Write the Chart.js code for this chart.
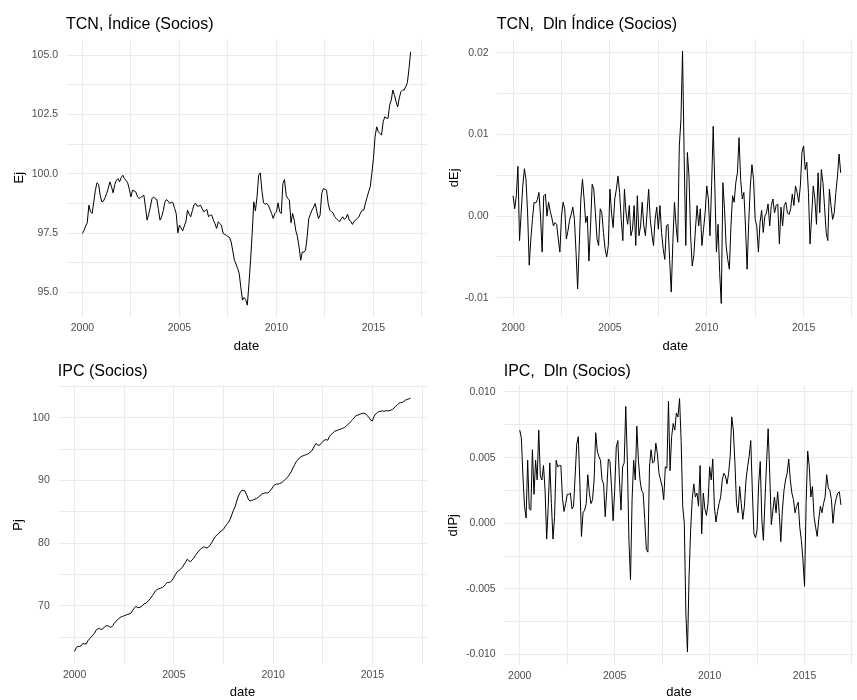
<!DOCTYPE html>
<html>
<head>
<meta charset="utf-8">
<title>TCN e IPC (Socios)</title>
<script src="https://cdn.jsdelivr.net/npm/chart.js@4.4.1/dist/chart.umd.min.js"></script>
<style>
    html, body { margin: 0; padding: 0; background: #fff; overflow: hidden; }
    .panel { position: absolute; }
    #p1 { left: 0; top: 0; width: 430px; height: 360px; }
    #p2 { left: 430px; top: 0; width: 427px; height: 360px; }
    #p3 { left: 0; top: 360px; width: 430px; height: 340px; }
    #p4 { left: 430px; top: 360px; width: 427px; height: 340px; }
</style>
</head>
<body>
<div class="panel" id="p1"><canvas id="tcnIndexChart"></canvas></div>
<div class="panel" id="p2"><canvas id="tcnDlnChart"></canvas></div>
<div class="panel" id="p3"><canvas id="ipcIndexChart"></canvas></div>
<div class="panel" id="p4"><canvas id="ipcDlnChart"></canvas></div>
<script>
// Monthly series, Jan 2000 - Dec 2016
const startYear = 2000;

const tcnIndex = [
    97.49, 97.62, 97.80, 97.94, 98.68, 98.40, 98.33, 98.80, 99.30, 99.62,
    99.56, 99.10, 98.82, 98.85, 99.00, 99.17, 99.40, 99.66, 99.45, 99.20,
    99.55, 99.73, 99.80, 99.66, 99.85, 99.94, 99.80, 99.72, 99.62, 99.35,
    99.03, 99.31, 99.28, 99.24, 99.05, 98.96, 99.00, 99.05, 99.10, 98.60,
    98.05, 98.30, 98.60, 98.95, 99.03, 98.95, 98.92, 98.50, 98.05, 98.19,
    98.45, 98.80, 98.92, 98.85, 98.75, 98.80, 98.78, 98.55, 98.33, 97.51,
    97.84, 97.72, 97.60, 97.80, 97.98, 98.47, 98.30, 98.19, 98.45, 98.70,
    98.75, 98.64, 98.64, 98.68, 98.55, 98.40, 98.45, 98.50, 98.19, 98.26,
    98.26, 98.05, 97.90, 97.70, 97.98, 97.90, 97.84, 97.49, 97.45, 97.42,
    97.35, 97.32, 97.13, 96.75, 96.36, 96.20, 96.01, 95.80, 95.20, 94.68,
    94.79, 94.70, 94.47, 95.38, 96.36, 97.49, 98.82, 98.44, 99.03, 99.94,
    100.04, 99.31, 98.78, 98.72, 98.75, 98.68, 98.50, 98.33, 98.12, 98.33,
    98.40, 98.78, 98.40, 98.33, 99.59, 99.76, 99.10, 98.96, 98.90, 97.94,
    98.33, 98.05, 97.60, 97.35, 96.92, 96.36, 96.71, 96.70, 96.78, 97.35,
    98.12, 98.30, 98.47, 98.60, 98.75, 98.40, 98.12, 98.26, 99.17, 99.38,
    99.35, 99.31, 98.75, 98.47, 98.40, 98.36, 98.20, 98.12, 98.05, 97.98,
    98.10, 98.19, 98.08, 98.15, 98.30, 98.05, 98.00, 97.87, 98.00, 98.05,
    98.12, 98.19, 98.35, 98.47, 98.47, 98.75, 99.00, 99.24, 99.45, 100.01,
    100.65, 101.56, 101.98, 101.77, 101.70, 101.63, 102.19, 102.40, 102.35, 102.33,
    102.89, 103.10, 103.53, 103.31, 103.03, 102.82, 103.20, 103.46, 103.53, 103.53,
    103.67, 103.85, 104.44, 105.14
];

const tcnDln = [
    0.0025, 0.0009, 0.0025, 0.0061, -0.0030, 0.0004, 0.0037, 0.0058, 0.0045, 0.0004,
    -0.0060, -0.0028, -0.0004, 0.0017, 0.0016, 0.0020, 0.0029, 0.0000, -0.0044, 0.0025,
    0.0027, 0.0000, 0.0017, 0.0006, -0.0002, -0.0012, -0.0008, -0.0010, -0.0028, -0.0044,
    0.0000, 0.0017, 0.0009, -0.0028, -0.0018, -0.0005, 0.0002, 0.0011, -0.0004, -0.0044,
    -0.0089, -0.0036, 0.0021, 0.0045, 0.0021, -0.0008, 0.0000, -0.0055, -0.0012, 0.0039,
    0.0033, 0.0004, -0.0028, -0.0036, 0.0009, 0.0004, -0.0020, -0.0040, -0.0050, -0.0036,
    0.0033, 0.0004, -0.0014, 0.0021, 0.0033, 0.0049, 0.0029, -0.0004, -0.0030, 0.0033,
    0.0004, -0.0010, 0.0013, -0.0024, -0.0016, 0.0013, -0.0036, 0.0025, -0.0024, -0.0012,
    0.0017, -0.0012, -0.0024, 0.0004, 0.0033, -0.0004, -0.0022, -0.0036, -0.0004, 0.0011,
    -0.0016, 0.0013, -0.0020, -0.0040, -0.0053, -0.0012, -0.0010, -0.0053, -0.0093, -0.0032,
    0.0017, -0.0012, -0.0032, 0.0086, 0.0118, 0.0202, 0.0074, -0.0036, 0.0078, 0.0049,
    -0.0024, -0.0061, -0.0048, -0.0016, 0.0013, -0.0012, 0.0009, -0.0036, -0.0016, 0.0004,
    0.0037, 0.0021, -0.0024, 0.0037, 0.0110, 0.0037, -0.0044, -0.0010, -0.0069, -0.0107,
    0.0041, 0.0009, -0.0036, -0.0053, -0.0065, -0.0012, 0.0025, 0.0017, 0.0041, 0.0053,
    0.0096, 0.0045, 0.0021, 0.0029, -0.0012, -0.0065, -0.0008, 0.0037, 0.0063, 0.0045,
    -0.0004, -0.0012, -0.0044, -0.0008, 0.0007, -0.0020, 0.0000, 0.0004, 0.0015, -0.0012,
    0.0013, 0.0021, 0.0004, 0.0013, 0.0015, -0.0034, 0.0011, -0.0012, 0.0013, 0.0017,
    0.0004, 0.0002, 0.0009, 0.0027, 0.0013, 0.0037, 0.0029, 0.0017, 0.0037, 0.0078,
    0.0086, 0.0057, 0.0066, 0.0029, -0.0034, 0.0000, 0.0037, 0.0021, -0.0010, 0.0053,
    0.0004, 0.0057, 0.0041, 0.0011, -0.0020, -0.0030, 0.0033, 0.0013, -0.0004, 0.0004,
    0.0029, 0.0049, 0.0076, 0.0053
];

const ipcIndex = [
    62.7, 63.3, 63.5, 63.5, 63.6, 64.0, 63.9, 63.9, 64.4, 64.7,
    65.0, 65.3, 65.6, 66.1, 66.3, 66.4, 66.2, 66.3, 66.6, 66.8,
    66.8, 66.7, 66.5, 66.8, 67.2, 67.5, 67.8, 68.0, 68.2, 68.3,
    68.4, 68.5, 68.6, 68.7, 68.8, 69.2, 69.6, 69.9, 69.7, 69.7,
    69.8, 70.0, 70.3, 70.4, 70.6, 70.9, 71.2, 71.6, 72.0, 72.4,
    72.6, 72.7, 72.8, 72.9, 73.1, 73.4, 73.7, 73.7, 73.8, 74.1,
    74.5, 75.0, 75.4, 75.6, 75.8, 76.1, 76.5, 76.9, 77.4, 77.2,
    77.0, 77.3, 77.6, 78.0, 78.4, 78.7, 79.0, 79.2, 79.4, 79.3,
    79.2, 79.4, 79.7, 80.1, 80.6, 81.0, 81.3, 81.5, 81.8, 82.0,
    82.2, 82.6, 83.0, 83.3, 83.8, 84.5, 85.2, 85.8, 86.7, 87.5,
    88.0, 88.4, 88.4, 88.3, 87.7, 87.0, 86.7, 86.8, 86.9, 87.0,
    87.1, 87.3, 87.5, 87.8, 87.9, 88.0, 88.0, 88.0, 88.3, 88.6,
    89.0, 89.3, 89.4, 89.4, 89.5, 89.6, 89.8, 90.1, 90.3, 90.6,
    91.0, 91.4, 92.0, 92.5, 93.0, 93.3, 93.6, 93.8, 93.9, 94.0,
    94.1, 94.2, 94.4, 94.6, 95.0, 95.5, 95.9, 95.6, 95.6, 95.9,
    96.2, 96.4, 96.5, 96.4, 97.0, 97.3, 97.5, 97.8, 97.9, 98.0,
    98.1, 98.2, 98.3, 98.4, 98.6, 98.9, 99.1, 99.4, 99.7, 100.0,
    100.3, 100.4, 100.5, 100.6, 100.7, 100.7, 100.6, 100.3, 100.0, 99.6,
    99.5, 100.2, 100.6, 100.8, 101.0, 101.0, 101.1, 101.0, 101.1, 101.1,
    101.1, 101.2, 101.3, 101.5, 101.8, 102.0, 102.3, 102.4, 102.4, 102.6,
    102.8, 102.9, 103.0, 103.1
];

const ipcDln = [
    0.0071, 0.0065, 0.0036, 0.0013, 0.0004, 0.0048, 0.0011, 0.0010, 0.0056, 0.0022,
    0.0048, 0.0033, 0.0071, 0.0036, 0.0033, 0.0044, 0.0025, -0.0012, 0.0013, 0.0046,
    0.0015, -0.0012, 0.0005, 0.0048, 0.0043, 0.0044, 0.0044, 0.0019, 0.0009, 0.0015,
    0.0022, 0.0022, 0.0023, 0.0011, 0.0013, 0.0036, 0.0060, 0.0066, 0.0030, -0.0010,
    0.0008, 0.0010, 0.0015, 0.0037, 0.0023, 0.0015, 0.0018, 0.0033, 0.0069, 0.0055,
    0.0051, 0.0048, 0.0033, 0.0030, 0.0005, 0.0025, 0.0049, 0.0047, 0.0028, 0.0002,
    0.0025, 0.0058, 0.0063, 0.0033, 0.0010, 0.0043, 0.0046, 0.0089, 0.0048, -0.0013,
    -0.0043, 0.0018, 0.0048, 0.0033, 0.0074, 0.0048, 0.0033, 0.0025, 0.0023, 0.0003,
    -0.0020, -0.0022, 0.0043, 0.0056, 0.0046, 0.0047, 0.0061, 0.0053, 0.0038, 0.0033,
    0.0028, 0.0018, 0.0043, 0.0042, 0.0093, 0.0040, 0.0066, 0.0076, 0.0071, 0.0084,
    0.0081, 0.0095, 0.0063, 0.0013, 0.0000, -0.0069, -0.0098, -0.0041, -0.0005, 0.0018,
    0.0030, 0.0020, 0.0023, 0.0013, 0.0044, -0.0008, 0.0023, 0.0011, 0.0006, 0.0015,
    0.0043, 0.0033, 0.0049, 0.0013, 0.0001, 0.0009, 0.0015, 0.0020, 0.0033, 0.0038,
    0.0036, 0.0030, 0.0038, 0.0051, 0.0081, 0.0071, 0.0046, 0.0015, 0.0008, 0.0028,
    0.0015, 0.0003, 0.0013, 0.0033, 0.0043, 0.0051, 0.0063, 0.0025, -0.0008, -0.0011,
    -0.0005, 0.0030, 0.0047, 0.0003, -0.0013, 0.0018, 0.0046, 0.0072, 0.0038, -0.0001,
    0.0010, 0.0020, 0.0008, 0.0024, 0.0008, -0.0014, 0.0010, 0.0025, 0.0033, 0.0038,
    0.0049, 0.0033, 0.0023, 0.0018, 0.0008, 0.0013, 0.0016, -0.0003, -0.0013, -0.0028,
    -0.0048, 0.0015, 0.0055, 0.0043, 0.0020, 0.0028, 0.0005, -0.0003, -0.0010, 0.0003,
    0.0013, 0.0008, 0.0015, 0.0020, 0.0037, 0.0027, 0.0025, 0.0018, 0.0000, 0.0013,
    0.0019, 0.0023, 0.0024, 0.0014
];

// Tick positions (major + minor grid) and their labels
const yearTicks = [2000, 2002.5, 2005, 2007.5, 2010, 2012.5, 2015, 2017.5];
const yearLabels = ['2000', '', '2005', '', '2010', '', '2015', ''];
const tcnTicks = [95, 96.25, 97.5, 98.75, 100, 101.25, 102.5, 103.75, 105];
const tcnTickLabels = ['95.0', '', '97.5', '', '100.0', '', '102.5', '', '105.0'];
const tcnDlnTicks = [-0.01, -0.005, 0, 0.005, 0.01, 0.015, 0.02];
const tcnDlnTickLabels = ['-0.01', '', '0.00', '', '0.01', '', '0.02'];
const ipcTicks = [65, 70, 75, 80, 85, 90, 95, 100, 105];
const ipcTickLabels = ['', '70', '', '80', '', '90', '', '100', ''];
const ipcDlnTicks = [-0.01, -0.0075, -0.005, -0.0025, 0, 0.0025, 0.005, 0.0075, 0.01];
const ipcDlnTickLabels = ['-0.010', '', '-0.005', '', '0.000', '', '0.005', '', '0.010'];

const dates = tcnIndex.map((_, i) => startYear + i / 12);

const FONT = '"Liberation Sans", Arial, sans-serif';
const GRID = '#ebebeb';
Chart.defaults.font.family = FONT;

// ggplot-style title, left aligned on the panel
const panelTitle = {
    id: 'panelTitle',
    afterDraw(chart, args, opts) {
        const ctx = chart.ctx;
        ctx.save();
        ctx.font = '16px ' + FONT;
        ctx.fillStyle = '#000';
        ctx.textBaseline = 'alphabetic';
        ctx.fillText(opts.text, chart.chartArea.left, opts.baseline);
        ctx.restore();
    }
};

function buildPanel(id, p) {
    return new Chart(document.getElementById(id), {
        type: 'line',
        data: {
            labels: dates,
            datasets: [{
                data: p.values,
                borderColor: '#000',
                borderWidth: 1,
                pointRadius: 0,
                tension: 0,
                fill: false
            }]
        },
        plugins: [panelTitle],
        options: {
            responsive: true,
            maintainAspectRatio: false,
            animation: false,
            layout: { padding: { top: p.padTop, right: p.padRight, left: 0, bottom: 0 } },
            plugins: {
                legend: { display: false },
                tooltip: { enabled: false },
                panelTitle: { text: p.title, baseline: p.titleBaseline }
            },
            scales: {
                x: {
                    type: 'linear',
                    min: 1999.154,
                    max: p.xMax,
                    afterBuildTicks: axis => { axis.ticks = yearTicks.map(v => ({ value: v })); },
                    afterFit: axis => { axis.height = p.xHeight; },
                    grid: { color: GRID, lineWidth: 1, drawTicks: false },
                    border: { display: false },
                    ticks: {
                        autoSkip: false,
                        maxRotation: 0,
                        padding: 5,
                        color: '#4d4d4d',
                        font: { size: 10.5 },
                        callback: (v, i) => yearLabels[i]
                    },
                    title: {
                        display: true,
                        text: 'date',
                        color: '#000',
                        font: { size: 13 },
                        padding: { top: 0, bottom: p.xTitlePad }
                    }
                },
                y: {
                    type: 'linear',
                    min: p.yMin,
                    max: p.yMax,
                    afterBuildTicks: axis => { axis.ticks = p.yTicks.map(v => ({ value: v })); },
                    afterFit: axis => { axis.width = p.yWidth; },
                    grid: { color: GRID, lineWidth: 1, drawTicks: false },
                    border: { display: false },
                    ticks: {
                        padding: 8,
                        color: '#4d4d4d',
                        font: { size: 10.5 },
                        callback: (v, i) => p.yTickLabels[i]
                    },
                    title: {
                        display: true,
                        text: p.yTitle,
                        color: '#000',
                        font: { size: 13 },
                        padding: { top: p.yTitlePad, bottom: 0 }
                    }
                }
            }
        }
    });
}

buildPanel('tcnIndexChart', {
    title: 'TCN, Índice (Socios)', titleBaseline: 29, yTitle: 'Ej',
    values: tcnIndex, yMin: 93.97, yMax: 105.70, yTicks: tcnTicks, yTickLabels: tcnTickLabels,
    xMax: 2017.76, yWidth: 66, padTop: 38.5, padRight: 3, xHeight: 43, xTitlePad: 6, yTitlePad: 12
});

buildPanel('tcnDlnChart', {
    title: 'TCN,  Dln Índice (Socios)', titleBaseline: 29, yTitle: 'dEj',
    values: tcnDln, yMin: -0.01235, yMax: 0.02175, yTicks: tcnDlnTicks, yTickLabels: tcnDlnTickLabels,
    xMax: 2017.59, yWidth: 66.7, padTop: 38.5, padRight: 0, xHeight: 43, xTitlePad: 6, yTitlePad: 17
});

buildPanel('ipcIndexChart', {
    title: 'IPC (Socios)', titleBaseline: 16, yTitle: 'Pj',
    values: ipcIndex, yMin: 60.7, yMax: 105.1, yTicks: ipcTicks, yTickLabels: ipcTickLabels,
    xMax: 2017.76, yWidth: 57.8, padTop: 25.7, padRight: 2.8, xHeight: 36, xTitlePad: 0, yTitlePad: 11
});

buildPanel('ipcDlnChart', {
    title: 'IPC,  Dln (Socios)', titleBaseline: 16, yTitle: 'dIPj',
    values: ipcDln, yMin: -0.01077, yMax: 0.01047, yTicks: ipcDlnTicks, yTickLabels: ipcDlnTickLabels,
    xMax: 2017.62, yWidth: 73.7, padTop: 25.8, padRight: 0, xHeight: 35.3, xTitlePad: 0, yTitlePad: 16
});
</script>
</body>
</html>
